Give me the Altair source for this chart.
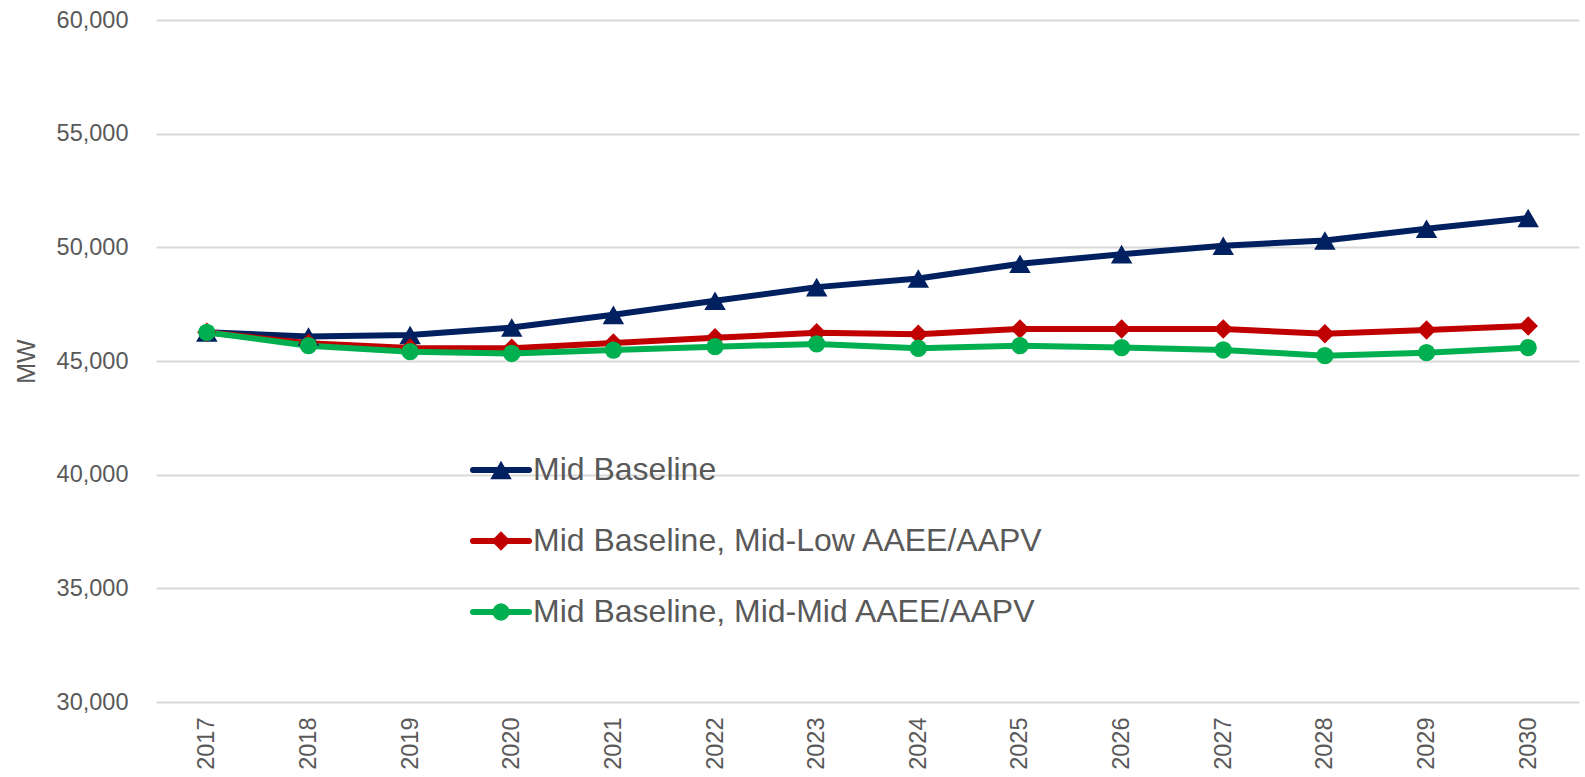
import altair as alt
import pandas as pd

# Peak demand forecast by scenario (MW)
years = [str(y) for y in range(2017, 2031)]
series_names = [
    "Mid Baseline",
    "Mid Baseline, Mid-Low AAEE/AAPV",
    "Mid Baseline, Mid-Mid AAEE/AAPV",
]
mid_baseline = [46260, 46080, 46140, 46470, 47030, 47650, 48250,
                48630, 49275, 49700, 50070, 50300, 50815, 51290]
mid_low = [46260, 45780, 45570, 45560, 45790, 46020, 46240,
           46180, 46410, 46410, 46410, 46200, 46365, 46540]
mid_mid = [46260, 45675, 45410, 45330, 45480, 45630, 45750,
           45560, 45675, 45590, 45485, 45235, 45365, 45585]
series_colors = ["#002060", "#C00000", "#00B050"]
series_shapes = ["triangle-up", "diamond", "circle"]
marker_sizes = [460, 300, 330]
y_ticks = [30000, 35000, 40000, 45000, 50000, 55000, 60000]

FONT = "Liberation Sans"
TEXT = "#595959"
GRID = "#d9d9d9"

rows = []
for name, vals in zip(series_names, [mid_baseline, mid_low, mid_mid]):
    for yr, v in zip(years, vals):
        rows.append({"year": yr, "MW": v, "series": name})
df = pd.DataFrame(rows)

legend_df = pd.DataFrame({"series": series_names, "row": list(range(len(series_names)))})

color = alt.Color("series:N", scale=alt.Scale(domain=series_names, range=series_colors), legend=None)
shape = alt.Shape("series:N", scale=alt.Scale(domain=series_names, range=series_shapes), legend=None)
size = alt.Size("series:N", scale=alt.Scale(domain=series_names, range=marker_sizes), legend=None)

x = alt.X(
    "year:O",
    sort=years,
    scale=alt.Scale(type="point", padding=0.5),
    axis=alt.Axis(
        title=None, labelAngle=270, labelFontSize=23.5, labelColor=TEXT, labelFont=FONT,
        labelPadding=15, ticks=False, tickSize=0, domain=False, grid=False,
    ),
)
y = alt.Y(
    "MW:Q",
    scale=alt.Scale(domain=[30000, 60000], nice=False, zero=False),
    axis=alt.Axis(
        title="MW", values=y_ticks, format=",.0f", labelFontSize=23.5, labelColor=TEXT,
        labelFont=FONT, labelPadding=28, ticks=False, tickSize=0, domain=False,
        grid=True, gridColor=GRID, gridWidth=2,
        titleFont=FONT, titleFontSize=25, titleFontWeight="normal", titleColor=TEXT,
        titleAngle=270, titleX=-130, titleY=341, titleAlign="center", titleBaseline="middle",
    ),
)

base = alt.Chart(df)
lines = base.mark_line(strokeWidth=6, strokeCap="round", strokeJoin="round").encode(
    x=x, y=y, color=color, detail="series:N"
)
points = base.mark_point(filled=True, opacity=1).encode(
    x=x, y=y, color=color, shape=shape, size=size
)
plot = alt.layer(lines, points)

# Legend drawn inside the plot area
ly = alt.Y("row:Q", scale=alt.Scale(domain=[0, 2], range=[450, 592]), axis=None)
lbase = alt.Chart(legend_df)
leg_line = lbase.mark_rule(strokeWidth=6, strokeCap="round").encode(
    x=alt.value(317), x2=alt.value(373), y=ly, color=color
)
leg_mark = lbase.mark_point(filled=True, opacity=1).encode(
    x=alt.value(345), y=ly, color=color, shape=shape, size=size
)
leg_text = lbase.mark_text(
    align="left", baseline="middle", font=FONT, fontSize=32, color=TEXT
).encode(x=alt.value(377), y=ly, text="series:N")
legend = alt.layer(leg_line, leg_mark, leg_text)

chart = (
    alt.layer(plot, legend)
    .resolve_scale(y="independent")
    .properties(
        width=1423,
        height=682,
        padding={"left": 156, "top": 20, "right": 6, "bottom": 75},
        autosize=alt.AutoSizeParams(type="none"),
        background="white",
    )
    .configure_view(stroke=None)
)

chart.save("out.html", embed_options={"renderer": "svg", "actions": False})
